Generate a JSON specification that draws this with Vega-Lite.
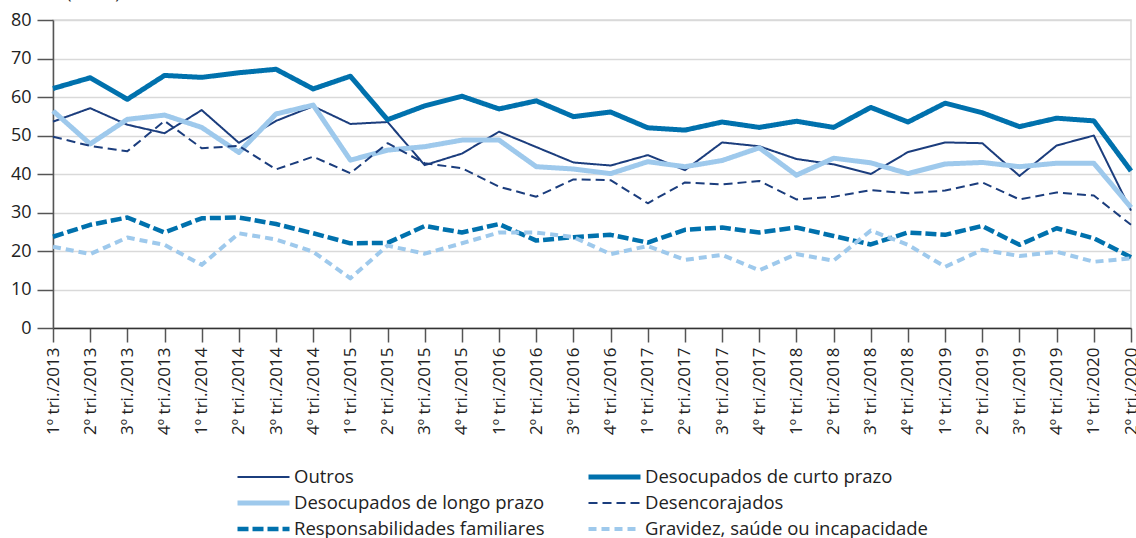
{
  "$schema": "https://vega.github.io/schema/vega-lite/v6.json",
  "width": 1078,
  "height": 308,
  "autosize": {"type": "none"},
  "padding": {"left": 53, "top": 20, "right": 5, "bottom": 210},
  "background": "white",
  "config": {
    "font": "Open Sans",
    "view": {"stroke": "#d9d9d9", "strokeWidth": 1.5},
    "axis": {"labelFont": "Open Sans", "titleFont": "Open Sans", "labelColor": "#222", "titleColor": "#222"},
    "legend": {
      "orient": "none", "legendX": 182, "legendY": 446,
      "columns": 2, "columnPadding": 41, "rowPadding": 4, "clipHeight": 22,
      "symbolType": "stroke", "symbolSize": 2704,
      "labelFontSize": 18.5, "labelFont": "Open Sans", "labelColor": "#222", "labelOffset": 2, "labelLimit": 400
    }
  },
  "data": {"values": [
    {"t":"1º tri./2013","s":"Outros","v":53.6},{"t":"2º tri./2013","s":"Outros","v":57.1},{"t":"3º tri./2013","s":"Outros","v":52.8},{"t":"4º tri./2013","s":"Outros","v":50.6},
    {"t":"1º tri./2014","s":"Outros","v":56.6},{"t":"2º tri./2014","s":"Outros","v":48.1},{"t":"3º tri./2014","s":"Outros","v":53.8},{"t":"4º tri./2014","s":"Outros","v":57.6},
    {"t":"1º tri./2015","s":"Outros","v":53.0},{"t":"2º tri./2015","s":"Outros","v":53.5},{"t":"3º tri./2015","s":"Outros","v":42.3},{"t":"4º tri./2015","s":"Outros","v":45.3},
    {"t":"1º tri./2016","s":"Outros","v":51.0},{"t":"2º tri./2016","s":"Outros","v":47.0},{"t":"3º tri./2016","s":"Outros","v":43.0},{"t":"4º tri./2016","s":"Outros","v":42.2},
    {"t":"1º tri./2017","s":"Outros","v":44.9},{"t":"2º tri./2017","s":"Outros","v":41.0},{"t":"3º tri./2017","s":"Outros","v":48.2},{"t":"4º tri./2017","s":"Outros","v":47.2},
    {"t":"1º tri./2018","s":"Outros","v":43.9},{"t":"2º tri./2018","s":"Outros","v":42.5},{"t":"3º tri./2018","s":"Outros","v":40.0},{"t":"4º tri./2018","s":"Outros","v":45.7},
    {"t":"1º tri./2019","s":"Outros","v":48.2},{"t":"2º tri./2019","s":"Outros","v":48.0},{"t":"3º tri./2019","s":"Outros","v":39.5},{"t":"4º tri./2019","s":"Outros","v":47.4},
    {"t":"1º tri./2020","s":"Outros","v":50.0},{"t":"2º tri./2020","s":"Outros","v":30.5},

    {"t":"1º tri./2013","s":"Desocupados de curto prazo","v":62.2},{"t":"2º tri./2013","s":"Desocupados de curto prazo","v":65.0},{"t":"3º tri./2013","s":"Desocupados de curto prazo","v":59.4},{"t":"4º tri./2013","s":"Desocupados de curto prazo","v":65.6},
    {"t":"1º tri./2014","s":"Desocupados de curto prazo","v":65.1},{"t":"2º tri./2014","s":"Desocupados de curto prazo","v":66.3},{"t":"3º tri./2014","s":"Desocupados de curto prazo","v":67.2},{"t":"4º tri./2014","s":"Desocupados de curto prazo","v":62.1},
    {"t":"1º tri./2015","s":"Desocupados de curto prazo","v":65.4},{"t":"2º tri./2015","s":"Desocupados de curto prazo","v":54.1},{"t":"3º tri./2015","s":"Desocupados de curto prazo","v":57.7},{"t":"4º tri./2015","s":"Desocupados de curto prazo","v":60.2},
    {"t":"1º tri./2016","s":"Desocupados de curto prazo","v":56.9},{"t":"2º tri./2016","s":"Desocupados de curto prazo","v":59.0},{"t":"3º tri./2016","s":"Desocupados de curto prazo","v":54.9},{"t":"4º tri./2016","s":"Desocupados de curto prazo","v":56.1},
    {"t":"1º tri./2017","s":"Desocupados de curto prazo","v":52.0},{"t":"2º tri./2017","s":"Desocupados de curto prazo","v":51.4},{"t":"3º tri./2017","s":"Desocupados de curto prazo","v":53.5},{"t":"4º tri./2017","s":"Desocupados de curto prazo","v":52.1},
    {"t":"1º tri./2018","s":"Desocupados de curto prazo","v":53.7},{"t":"2º tri./2018","s":"Desocupados de curto prazo","v":52.1},{"t":"3º tri./2018","s":"Desocupados de curto prazo","v":57.3},{"t":"4º tri./2018","s":"Desocupados de curto prazo","v":53.5},
    {"t":"1º tri./2019","s":"Desocupados de curto prazo","v":58.4},{"t":"2º tri./2019","s":"Desocupados de curto prazo","v":55.9},{"t":"3º tri./2019","s":"Desocupados de curto prazo","v":52.3},{"t":"4º tri./2019","s":"Desocupados de curto prazo","v":54.5},
    {"t":"1º tri./2020","s":"Desocupados de curto prazo","v":53.8},{"t":"2º tri./2020","s":"Desocupados de curto prazo","v":40.8},

    {"t":"1º tri./2013","s":"Desocupados de longo prazo","v":56.4},{"t":"2º tri./2013","s":"Desocupados de longo prazo","v":47.8},{"t":"3º tri./2013","s":"Desocupados de longo prazo","v":54.2},{"t":"4º tri./2013","s":"Desocupados de longo prazo","v":55.3},
    {"t":"1º tri./2014","s":"Desocupados de longo prazo","v":52.1},{"t":"2º tri./2014","s":"Desocupados de longo prazo","v":45.6},{"t":"3º tri./2014","s":"Desocupados de longo prazo","v":55.6},{"t":"4º tri./2014","s":"Desocupados de longo prazo","v":57.9},
    {"t":"1º tri./2015","s":"Desocupados de longo prazo","v":43.6},{"t":"2º tri./2015","s":"Desocupados de longo prazo","v":46.2},{"t":"3º tri./2015","s":"Desocupados de longo prazo","v":47.1},{"t":"4º tri./2015","s":"Desocupados de longo prazo","v":48.8},
    {"t":"1º tri./2016","s":"Desocupados de longo prazo","v":48.8},{"t":"2º tri./2016","s":"Desocupados de longo prazo","v":41.9},{"t":"3º tri./2016","s":"Desocupados de longo prazo","v":41.3},{"t":"4º tri./2016","s":"Desocupados de longo prazo","v":40.1},
    {"t":"1º tri./2017","s":"Desocupados de longo prazo","v":43.2},{"t":"2º tri./2017","s":"Desocupados de longo prazo","v":41.9},{"t":"3º tri./2017","s":"Desocupados de longo prazo","v":43.5},{"t":"4º tri./2017","s":"Desocupados de longo prazo","v":46.8},
    {"t":"1º tri./2018","s":"Desocupados de longo prazo","v":39.7},{"t":"2º tri./2018","s":"Desocupados de longo prazo","v":44.1},{"t":"3º tri./2018","s":"Desocupados de longo prazo","v":42.9},{"t":"4º tri./2018","s":"Desocupados de longo prazo","v":40.1},
    {"t":"1º tri./2019","s":"Desocupados de longo prazo","v":42.6},{"t":"2º tri./2019","s":"Desocupados de longo prazo","v":43.0},{"t":"3º tri./2019","s":"Desocupados de longo prazo","v":41.9},{"t":"4º tri./2019","s":"Desocupados de longo prazo","v":42.8},
    {"t":"1º tri./2020","s":"Desocupados de longo prazo","v":42.8},{"t":"2º tri./2020","s":"Desocupados de longo prazo","v":31.3},

    {"t":"1º tri./2013","s":"Desencorajados","v":49.7},{"t":"2º tri./2013","s":"Desencorajados","v":47.3},{"t":"3º tri./2013","s":"Desencorajados","v":45.9},{"t":"4º tri./2013","s":"Desencorajados","v":53.8},
    {"t":"1º tri./2014","s":"Desencorajados","v":46.7},{"t":"2º tri./2014","s":"Desencorajados","v":47.3},{"t":"3º tri./2014","s":"Desencorajados","v":41.2},{"t":"4º tri./2014","s":"Desencorajados","v":44.5},
    {"t":"1º tri./2015","s":"Desencorajados","v":40.2},{"t":"2º tri./2015","s":"Desencorajados","v":48.0},{"t":"3º tri./2015","s":"Desencorajados","v":42.8},{"t":"4º tri./2015","s":"Desencorajados","v":41.5},
    {"t":"1º tri./2016","s":"Desencorajados","v":36.7},{"t":"2º tri./2016","s":"Desencorajados","v":34.1},{"t":"3º tri./2016","s":"Desencorajados","v":38.6},{"t":"4º tri./2016","s":"Desencorajados","v":38.4},
    {"t":"1º tri./2017","s":"Desencorajados","v":32.4},{"t":"2º tri./2017","s":"Desencorajados","v":37.8},{"t":"3º tri./2017","s":"Desencorajados","v":37.3},{"t":"4º tri./2017","s":"Desencorajados","v":38.2},
    {"t":"1º tri./2018","s":"Desencorajados","v":33.4},{"t":"2º tri./2018","s":"Desencorajados","v":34.1},{"t":"3º tri./2018","s":"Desencorajados","v":35.8},{"t":"4º tri./2018","s":"Desencorajados","v":35.0},
    {"t":"1º tri./2019","s":"Desencorajados","v":35.7},{"t":"2º tri./2019","s":"Desencorajados","v":37.8},{"t":"3º tri./2019","s":"Desencorajados","v":33.4},{"t":"4º tri./2019","s":"Desencorajados","v":35.2},
    {"t":"1º tri./2020","s":"Desencorajados","v":34.4},{"t":"2º tri./2020","s":"Desencorajados","v":26.8},

    {"t":"1º tri./2013","s":"Responsabilidades familiares","v":23.7},{"t":"2º tri./2013","s":"Responsabilidades familiares","v":26.8},{"t":"3º tri./2013","s":"Responsabilidades familiares","v":28.7},{"t":"4º tri./2013","s":"Responsabilidades familiares","v":24.8},
    {"t":"1º tri./2014","s":"Responsabilidades familiares","v":28.5},{"t":"2º tri./2014","s":"Responsabilidades familiares","v":28.7},{"t":"3º tri./2014","s":"Responsabilidades familiares","v":27.0},{"t":"4º tri./2014","s":"Responsabilidades familiares","v":24.6},
    {"t":"1º tri./2015","s":"Responsabilidades familiares","v":22.0},{"t":"2º tri./2015","s":"Responsabilidades familiares","v":22.1},{"t":"3º tri./2015","s":"Responsabilidades familiares","v":26.5},{"t":"4º tri./2015","s":"Responsabilidades familiares","v":24.8},
    {"t":"1º tri./2016","s":"Responsabilidades familiares","v":27.0},{"t":"2º tri./2016","s":"Responsabilidades familiares","v":22.7},{"t":"3º tri./2016","s":"Responsabilidades familiares","v":23.6},{"t":"4º tri./2016","s":"Responsabilidades familiares","v":24.2},
    {"t":"1º tri./2017","s":"Responsabilidades familiares","v":22.2},{"t":"2º tri./2017","s":"Responsabilidades familiares","v":25.5},{"t":"3º tri./2017","s":"Responsabilidades familiares","v":26.1},{"t":"4º tri./2017","s":"Responsabilidades familiares","v":24.8},
    {"t":"1º tri./2018","s":"Responsabilidades familiares","v":26.1},{"t":"2º tri./2018","s":"Responsabilidades familiares","v":23.9},{"t":"3º tri./2018","s":"Responsabilidades familiares","v":21.7},{"t":"4º tri./2018","s":"Responsabilidades familiares","v":24.8},
    {"t":"1º tri./2019","s":"Responsabilidades familiares","v":24.2},{"t":"2º tri./2019","s":"Responsabilidades familiares","v":26.5},{"t":"3º tri./2019","s":"Responsabilidades familiares","v":21.6},{"t":"4º tri./2019","s":"Responsabilidades familiares","v":25.9},
    {"t":"1º tri./2020","s":"Responsabilidades familiares","v":23.3},{"t":"2º tri./2020","s":"Responsabilidades familiares","v":18.4},

    {"t":"1º tri./2013","s":"Gravidez, saúde ou incapacidade","v":21.1},{"t":"2º tri./2013","s":"Gravidez, saúde ou incapacidade","v":19.2},{"t":"3º tri./2013","s":"Gravidez, saúde ou incapacidade","v":23.5},{"t":"4º tri./2013","s":"Gravidez, saúde ou incapacidade","v":21.6},
    {"t":"1º tri./2014","s":"Gravidez, saúde ou incapacidade","v":16.4},{"t":"2º tri./2014","s":"Gravidez, saúde ou incapacidade","v":24.6},{"t":"3º tri./2014","s":"Gravidez, saúde ou incapacidade","v":23.0},{"t":"4º tri./2014","s":"Gravidez, saúde ou incapacidade","v":19.8},
    {"t":"1º tri./2015","s":"Gravidez, saúde ou incapacidade","v":12.9},{"t":"2º tri./2015","s":"Gravidez, saúde ou incapacidade","v":21.4},{"t":"3º tri./2015","s":"Gravidez, saúde ou incapacidade","v":19.3},{"t":"4º tri./2015","s":"Gravidez, saúde ou incapacidade","v":22.0},
    {"t":"1º tri./2016","s":"Gravidez, saúde ou incapacidade","v":24.8},{"t":"2º tri./2016","s":"Gravidez, saúde ou incapacidade","v":24.8},{"t":"3º tri./2016","s":"Gravidez, saúde ou incapacidade","v":23.6},{"t":"4º tri./2016","s":"Gravidez, saúde ou incapacidade","v":19.2},
    {"t":"1º tri./2017","s":"Gravidez, saúde ou incapacidade","v":21.3},{"t":"2º tri./2017","s":"Gravidez, saúde ou incapacidade","v":17.7},{"t":"3º tri./2017","s":"Gravidez, saúde ou incapacidade","v":19.0},{"t":"4º tri./2017","s":"Gravidez, saúde ou incapacidade","v":15.0},
    {"t":"1º tri./2018","s":"Gravidez, saúde ou incapacidade","v":19.2},{"t":"2º tri./2018","s":"Gravidez, saúde ou incapacidade","v":17.5},{"t":"3º tri./2018","s":"Gravidez, saúde ou incapacidade","v":25.3},{"t":"4º tri./2018","s":"Gravidez, saúde ou incapacidade","v":21.6},
    {"t":"1º tri./2019","s":"Gravidez, saúde ou incapacidade","v":15.9},{"t":"2º tri./2019","s":"Gravidez, saúde ou incapacidade","v":20.3},{"t":"3º tri./2019","s":"Gravidez, saúde ou incapacidade","v":18.7},{"t":"4º tri./2019","s":"Gravidez, saúde ou incapacidade","v":19.8},
    {"t":"1º tri./2020","s":"Gravidez, saúde ou incapacidade","v":17.2},{"t":"2º tri./2020","s":"Gravidez, saúde ou incapacidade","v":18.1}
  ]},
  "mark": {"type": "line", "strokeJoin": "round", "strokeCap": "butt"},
  "encoding": {
    "x": {
      "field": "t", "type": "nominal", "sort": null,
      "scale": {"type": "point", "padding": 0},
      "axis": {
        "title": null, "labelAngle": -90, "labelFontSize": 17, "labelPadding": 5,
        "tickSize": 14, "tickColor": "#555", "tickWidth": 1.5,
        "domainColor": "#333", "domainWidth": 1.5, "grid": false
      }
    },
    "y": {
      "field": "v", "type": "quantitative",
      "scale": {"domain": [0, 80], "nice": false},
      "axis": {
        "values": [0, 10, 20, 30, 40, 50, 60, 70, 80],
        "title": "(Em %)", "titleAngle": 0, "titleAlign": "left", "titleBaseline": "alphabetic",
        "titleX": 13, "titleY": -22, "titleFontSize": 17, "titleFontWeight": "normal",
        "labelFontSize": 18, "labelPadding": 6,
        "tickSize": 16, "tickColor": "#555", "tickWidth": 1.5,
        "domainColor": "#555", "domainWidth": 1.5,
        "grid": true, "gridColor": "#d9d9d9", "gridWidth": 1.5
      }
    },
    "color": {
      "field": "s", "type": "nominal",
      "scale": {
        "domain": ["Outros", "Desocupados de longo prazo", "Responsabilidades familiares", "Desocupados de curto prazo", "Desencorajados", "Gravidez, saúde ou incapacidade"],
        "range": ["#1b3d7d", "#9ec9ec", "#0071ad", "#0071ad", "#1b3d7d", "#9ec9ec"]
      },
      "legend": {"title": null}
    },
    "strokeWidth": {
      "field": "s", "type": "nominal",
      "scale": {
        "type": "ordinal",
        "domain": ["Outros", "Desocupados de longo prazo", "Responsabilidades familiares", "Desocupados de curto prazo", "Desencorajados", "Gravidez, saúde ou incapacidade"],
        "range": [2, 5, 4.5, 5, 2, 4]
      },
      "legend": {"title": null}
    },
    "strokeDash": {
      "field": "s", "type": "nominal",
      "scale": {
        "domain": ["Outros", "Desocupados de longo prazo", "Responsabilidades familiares", "Desocupados de curto prazo", "Desencorajados", "Gravidez, saúde ou incapacidade"],
        "range": [[1, 0], [1, 0], [11, 4], [1, 0], [9, 5], [8, 5]]
      },
      "legend": {"title": null}
    }
  }
}
